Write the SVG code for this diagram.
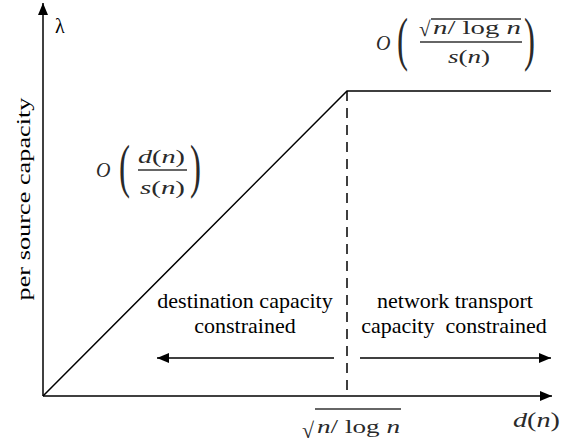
<svg xmlns="http://www.w3.org/2000/svg" width="569" height="444" viewBox="0 0 569 444">
<defs>
<marker id="ah" markerWidth="12" markerHeight="10" refX="12" refY="5" orient="auto" markerUnits="userSpaceOnUse">
<path d="M0,0 L12,5 L0,10 Z" fill="#000"/>
</marker>
<style>
.ln{stroke:#000;stroke-width:1.5;fill:none}
.tx{font-family:"Liberation Serif",serif;fill:#000;white-space:pre}
.m{font-family:"Liberation Serif",serif;fill:#2a2a2a}
.it{font-style:italic}
.bar{stroke:#333;stroke-width:1.3}
</style>
</defs>
<rect width="569" height="444" fill="#fff"/>
<g id="connectors">
<line class="ln" x1="43" y1="396" x2="43" y2="3" marker-end="url(#ah)"/>
<line class="ln" x1="43" y1="396" x2="552" y2="396" marker-end="url(#ah)"/>
<polyline class="ln" points="43,396 347,91 551,91"/>
<line class="ln" x1="347" y1="91" x2="347" y2="396" stroke-dasharray="10,7"/>
<line class="ln" x1="334" y1="358" x2="157" y2="358" marker-end="url(#ah)"/>
<line class="ln" x1="360" y1="358" x2="551" y2="358" marker-end="url(#ah)"/>
</g>
<g id="axis-y-label">
<text class="tx" x="55" y="33" font-size="20">λ</text>
<text class="tx" transform="translate(30,199) rotate(-90)" text-anchor="middle" font-size="18" textLength="203" lengthAdjust="spacingAndGlyphs">per source capacity</text>
</g>
<g id="left-region">
<text class="tx" x="245" y="308" text-anchor="middle" font-size="22">destination capacity</text>
<text class="tx" x="245" y="333" text-anchor="middle" font-size="22">constrained</text>
</g>
<g id="right-region">
<text class="tx" x="455" y="308" text-anchor="middle" font-size="22">network transport</text>
<text class="tx" x="454" y="333" text-anchor="middle" font-size="22">capacity  constrained</text>
</g>
<g id="expr-left">
<text class="m it" x="96" y="177" font-size="20">O</text>
<text class="m" x="119" y="186" font-size="60" transform="translate(119,186) scale(0.55,1) translate(-119,-186)">(</text>
<text class="m" x="190" y="186" font-size="60" transform="translate(190,186) scale(0.55,1) translate(-190,-186)">)</text>
<text class="m" x="138" y="163" font-size="19" textLength="47" lengthAdjust="spacingAndGlyphs"><tspan class="it">d</tspan>(<tspan class="it">n</tspan>)</text>
<line class="bar" x1="138" y1="170" x2="187" y2="170"/>
<text class="m" x="140" y="194" font-size="19" textLength="45" lengthAdjust="spacingAndGlyphs"><tspan class="it">s</tspan>(<tspan class="it">n</tspan>)</text>
</g>
<g id="expr-right">
<text class="m it" x="376" y="50" font-size="20">O</text>
<text class="m" x="397" y="59" font-size="60" transform="translate(397,59) scale(0.55,1) translate(-397,-59)">(</text>
<text class="m" x="524" y="59" font-size="60" transform="translate(524,59) scale(0.55,1) translate(-524,-59)">)</text>
<text class="m" x="419" y="36" font-size="21">√</text>
<line class="bar" x1="431" y1="19" x2="521" y2="19"/>
<text class="m" x="433" y="34" font-size="18" textLength="88" lengthAdjust="spacingAndGlyphs"><tspan class="it">n</tspan>/ log <tspan class="it">n</tspan></text>
<line class="bar" x1="420" y1="42" x2="522" y2="42"/>
<text class="m" x="448" y="63" font-size="19" textLength="42" lengthAdjust="spacingAndGlyphs"><tspan class="it">s</tspan>(<tspan class="it">n</tspan>)</text>
</g>
<g id="x-labels">
<text class="m" x="302" y="438" font-size="22">√</text>
<line class="bar" x1="315" y1="409" x2="401" y2="409"/>
<text class="m" x="317" y="433" font-size="18" textLength="83" lengthAdjust="spacingAndGlyphs"><tspan class="it">n</tspan>/ log <tspan class="it">n</tspan></text>
<text class="m" x="513" y="427" font-size="22" textLength="47" lengthAdjust="spacingAndGlyphs"><tspan class="it">d</tspan>(<tspan class="it">n</tspan>)</text>
</g>
</svg>
